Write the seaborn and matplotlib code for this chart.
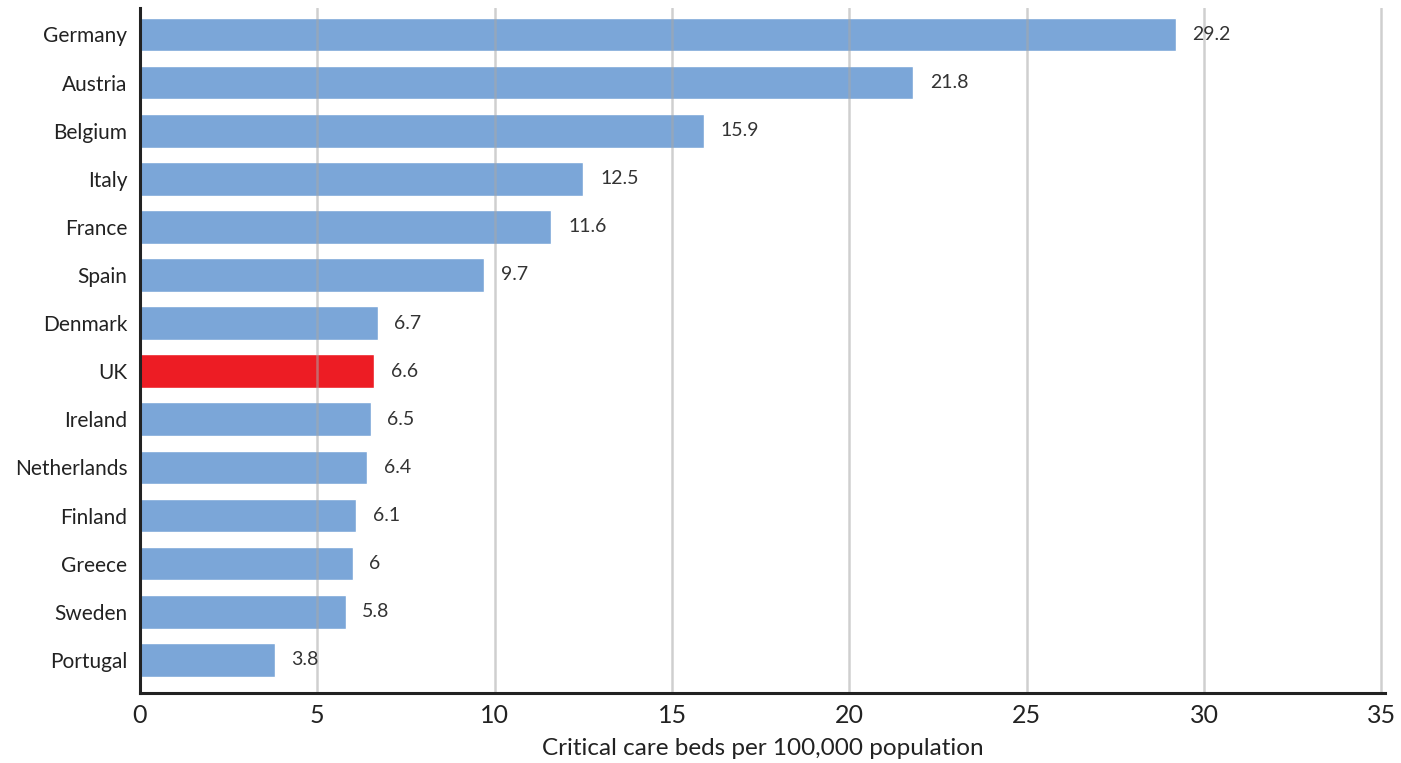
import matplotlib
matplotlib.use("Agg")
import matplotlib.pyplot as plt
import seaborn as sns
import pandas as pd

countries = ["Germany", "Austria", "Belgium", "Italy", "France", "Spain", "Denmark",
             "UK", "Ireland", "Netherlands", "Finland", "Greece", "Sweden", "Portugal"]
beds = [29.2, 21.8, 15.9, 12.5, 11.6, 9.7, 6.7, 6.6, 6.5, 6.4, 6.1, 6.0, 5.8, 3.8]
value_labels = ["29.2", "21.8", "15.9", "12.5", "11.6", "9.7", "6.7", "6.6", "6.5",
                "6.4", "6.1", "6", "5.8", "3.8"]
x_ticks = [0, 5, 10, 15, 20, 25, 30, 35]

sns.set_theme(style="white")
plt.rcParams['font.family'] = ['Lato', 'DejaVu Sans']

df = pd.DataFrame({"country": countries, "beds": beds})
palette = {c: ("#ED1C24" if c == "UK" else "#7BA6D8") for c in countries}

fig = plt.figure(figsize=(14.01, 7.63), dpi=100)
ax = fig.add_axes([0.0999, 0.0917, 0.8887, 0.8978])
sns.barplot(data=df, y="country", x="beds", hue="country", palette=palette,
            order=countries, width=0.7, legend=False, ax=ax, saturation=1)

ax.set_xlim(0, 35.1)
ax.set_ylim(13.69, -0.55)
ax.set_xticks(x_ticks)
ax.set_xticklabels([str(t) for t in x_ticks], fontsize=18, color="#222222")
ax.tick_params(axis="y", labelsize=15, colors="#222222", length=0, pad=9)
ax.tick_params(axis="x", length=0, pad=8)
ax.set_ylabel("")
ax.set_xlabel("Critical care beds per 100,000 population", fontsize=17.5, color="#222222", labelpad=8)

ax.grid(axis="x", color="#a8a8a8", alpha=0.55, linewidth=1.8, zorder=5)
ax.set_axisbelow(False)
for sp in ["top", "right"]:
    ax.spines[sp].set_visible(False)
for sp in ["left", "bottom"]:
    ax.spines[sp].set_color("#222222")
    ax.spines[sp].set_linewidth(2.2)
    ax.spines[sp].set_zorder(10)

for i, (v, lab) in enumerate(zip(beds, value_labels)):
    ax.annotate(lab, xy=(v, i), xytext=(12, 0), textcoords="offset points",
                va="center", ha="left", fontsize=14, color="#333333")

fig.savefig("out.png", dpi=100)
